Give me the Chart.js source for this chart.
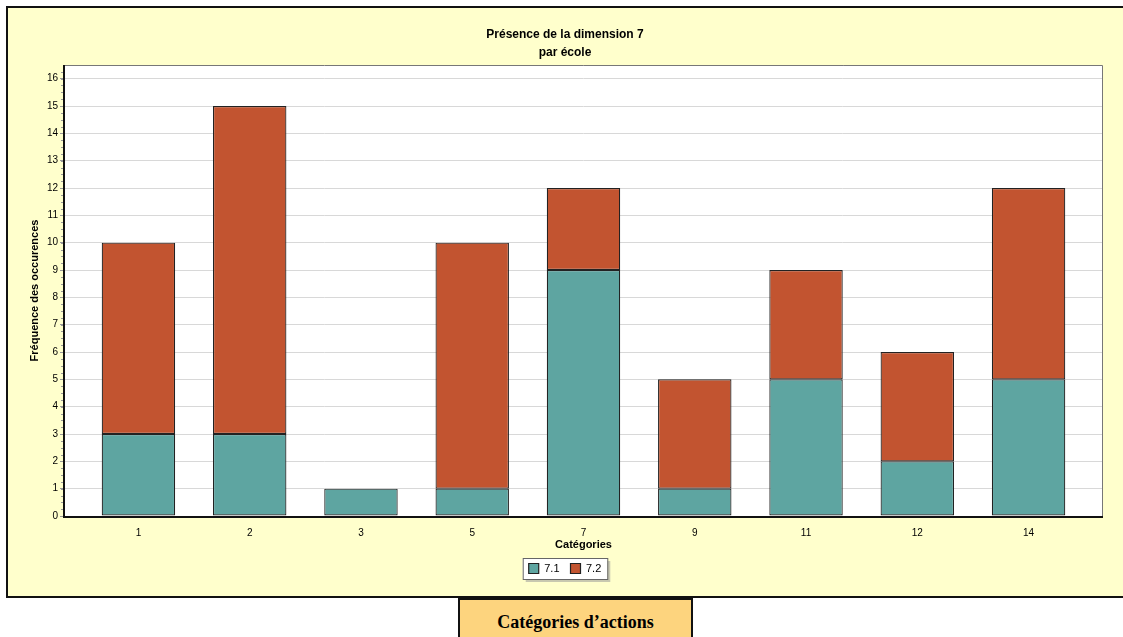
<!DOCTYPE html>
<html>
<head>
<meta charset="utf-8">
<script src="https://cdn.jsdelivr.net/npm/chart.js@4"></script>
<style>
  html, body { margin: 0; padding: 0; background: #fff; overflow: hidden; width: 1123px; height: 637px; }
  #frame { position: absolute; left: 6px; top: 6px; width: 1128px; height: 588px; background: #ffffcc; border: 2px solid #111; }
  #wrap { position: absolute; left: 8px; top: 8px; width: 1128px; height: 588px; }
  #caption { position: absolute; left: 458px; top: 598px; width: 231px; height: 50px; background: #fdd47e; border: 2px solid #111;
    font: bold 18px "Liberation Serif", "Times New Roman", serif; text-align: center; line-height: 44px; color: #000; }
</style>
</head>
<body>
<div id="frame"></div>
<div id="wrap"><canvas id="chart" width="1128" height="588"></canvas></div>
<div id="caption">Catégories d’actions</div>
<script>
const categories = ["1", "2", "3", "5", "7", "9", "11", "12", "14"];
const serie71 = [3, 3, 1, 1, 9, 1, 5, 2, 5];
const serie72 = [7, 12, 0, 9, 3, 4, 4, 4, 7];
const yTicks = [0, 1, 2, 3, 4, 5, 6, 7, 8, 9, 10, 11, 12, 13, 14, 15, 16];

// positions des catégories sur un axe linéaire (marge de part et d'autre)
const positions = categories.map((_, i) => i);

// cadre du graphique + petites graduations de l'axe Y
const framePlugin = {
  id: "frame",
  afterDraw(chart) {
    const { ctx, chartArea: a, scales } = chart;
    ctx.save();
    ctx.strokeStyle = "#777";
    ctx.lineWidth = 1;
    ctx.beginPath();
    ctx.moveTo(a.left, a.top + 0.5);
    ctx.lineTo(a.right + 0.5, a.top + 0.5);
    ctx.lineTo(a.right + 0.5, a.bottom);
    ctx.stroke();
    ctx.strokeStyle = "#111";
    ctx.lineWidth = 2;
    ctx.beginPath();
    ctx.moveTo(a.left - 1, a.top);
    ctx.lineTo(a.left - 1, a.bottom + 1);
    ctx.lineTo(a.right + 1, a.bottom + 1);
    ctx.stroke();
    ctx.strokeStyle = "#999";
    ctx.lineWidth = 1;
    const y = scales.y;
    for (let v = 0; v <= 16.4; v += 0.25) {
      const py = Math.round(y.getPixelForValue(v)) + 0.5;
      ctx.beginPath();
      ctx.moveTo(a.left - 4, py);
      ctx.lineTo(a.left - 2, py);
      ctx.stroke();
    }
    ctx.restore();
  },
};

// boîte de légende avec ombre
const legendBox = {
  id: "legendBox",
  beforeDraw(chart) {
    const boxes = chart.legend.legendHitBoxes;
    if (!boxes || !boxes.length) return;
    const { ctx } = chart;
    const last = boxes[boxes.length - 1];
    const x0 = boxes[0].left - 6, x1 = last.left + last.width + 6;
    const y0 = boxes[0].top - 5, y1 = boxes[0].top + boxes[0].height + 5;
    ctx.save();
    ctx.fillStyle = "#c8c8b0";
    ctx.fillRect(x0 + 3, y0 + 3, x1 - x0, y1 - y0);
    ctx.fillStyle = "#fff";
    ctx.fillRect(x0, y0, x1 - x0, y1 - y0);
    ctx.strokeStyle = "#666";
    ctx.lineWidth = 1;
    ctx.strokeRect(x0 + 0.5, y0 + 0.5, x1 - x0, y1 - y0);
    ctx.restore();
  },
};

const plotBg = {
  id: "plotBg",
  beforeDraw(chart) {
    const { ctx, chartArea: a } = chart;
    ctx.save();
    ctx.fillStyle = "#fff";
    ctx.fillRect(a.left, a.top, a.right - a.left, a.bottom - a.top);
    ctx.restore();
  },
};

const font = "Arial, 'Liberation Sans'";

new Chart(document.getElementById("chart"), {
  type: "bar",
  data: {
    labels: positions,
    datasets: [
      { label: "7.1", data: serie71, backgroundColor: "#5ea5a1", borderColor: "#222", borderWidth: 1.2, borderSkipped: false },
      { label: "7.2", data: serie72, backgroundColor: "#c25430", borderColor: "#222", borderWidth: 1.2, borderSkipped: false },
    ],
  },
  options: {
    responsive: false,
    animation: false,
    datasets: { bar: { barPercentage: 0.66, categoryPercentage: 1 } },
    layout: { padding: { left: 20, right: 34, top: 0, bottom: 12 } },
    plugins: {
      title: {
        display: true,
        text: ["Présence de la dimension 7", "par école"],
        color: "#000",
        font: { family: font, size: 12, weight: "bold", lineHeight: 1.5 },
        padding: { top: 18, bottom: 3 },
      },
      legend: {
        position: "bottom",
        labels: { color: "#000", boxWidth: 10, boxHeight: 10, padding: 11, font: { family: font, size: 11 } },
      },
      tooltip: { enabled: false },
    },
    scales: {
      x: {
        type: "linear",
        stacked: true,
        offset: false,
        bounds: "ticks",
        min: -0.66,
        max: 8.66,
        afterBuildTicks(scale) { scale.ticks = positions.map(v => ({ value: v })); },
        grid: { display: false, drawTicks: true, tickLength: 4, tickColor: "#999" },
        border: { display: false },
        ticks: { color: "#000", padding: 7, font: { family: font, size: 10 }, callback: v => categories[v] },
        title: { display: true, text: "Catégories", color: "#000", padding: { top: 0, bottom: 0 },
          font: { family: font, size: 11, weight: "bold" } },
        afterFit(scale) { scale.height = 36; },
      },
      y: {
        stacked: true,
        min: 0,
        max: 16.5,
        afterBuildTicks(scale) { scale.ticks = yTicks.map(v => ({ value: v })); },
        grid: { color: "#d8d8d8", lineWidth: 1, drawTicks: true, tickLength: 5, tickColor: "#999" },
        border: { display: false },
        ticks: { color: "#000", padding: 2, font: { family: font, size: 10 } },
        title: { display: true, text: "Fréquence des occurences", color: "#000", padding: { top: 0, bottom: 6 },
          font: { family: font, size: 11, weight: "bold" } },
        afterFit(scale) { scale.width = 37; },
      },
    },
  },
  plugins: [plotBg, framePlugin, legendBox],
});
</script>
</body>
</html>
